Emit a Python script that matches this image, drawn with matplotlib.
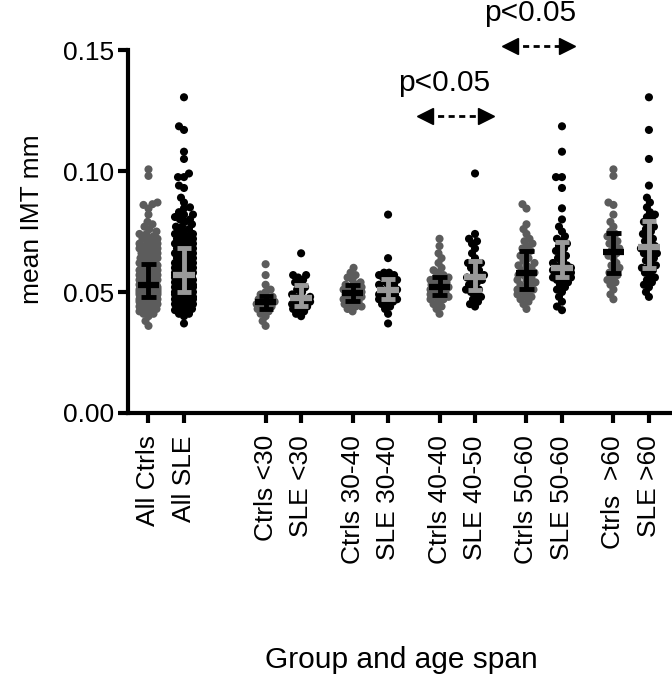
import numpy as np
import matplotlib.pyplot as plt

plt.rcParams['font.family'] = ['Liberation Sans', 'DejaVu Sans']

# group labels and x positions (pairs with gaps between age spans)
labels = ['All Ctrls', 'All SLE', 'Ctrls <30', 'SLE <30', 'Ctrls 30-40', 'SLE 30-40',
          'Ctrls 40-40', 'SLE 40-50', 'Ctrls 50-60', 'SLE 50-60', 'Ctrls  >60', 'SLE >60']
positions = [0, 1, 3.3, 4.3, 5.75, 6.75, 8.2, 9.2, 10.65, 11.65, 13.1, 14.1]

# mean IMT (mm)
ctrls_lt30 = [0.036, 0.038, 0.040, 0.041, 0.042, 0.043, 0.043, 0.044, 0.044, 0.045, 0.045, 0.046,
              0.046, 0.046, 0.047, 0.047, 0.048, 0.048, 0.049, 0.050, 0.051, 0.053, 0.057, 0.0615]
sle_lt30 = [0.040, 0.041, 0.042, 0.043, 0.043, 0.044, 0.044, 0.045, 0.045, 0.046, 0.046, 0.047,
            0.047, 0.048, 0.048, 0.049, 0.050, 0.051, 0.052, 0.053, 0.054, 0.055, 0.056, 0.057,
            0.057, 0.066]
ctrls_30_40 = [0.042, 0.043, 0.044, 0.044, 0.045, 0.045, 0.046, 0.046, 0.047, 0.047, 0.048, 0.048,
               0.049, 0.049, 0.049, 0.050, 0.050, 0.050, 0.051, 0.051, 0.052, 0.052, 0.053, 0.053,
               0.054, 0.055, 0.056, 0.057, 0.058, 0.060]
sle_30_40 = [0.037, 0.041, 0.043, 0.044, 0.045, 0.046, 0.046, 0.047, 0.047, 0.048, 0.048, 0.049,
             0.049, 0.050, 0.050, 0.051, 0.051, 0.052, 0.053, 0.053, 0.054, 0.055, 0.055, 0.056,
             0.056, 0.057, 0.057, 0.058, 0.058, 0.064, 0.082]
ctrls_40_50 = [0.041, 0.043, 0.044, 0.045, 0.046, 0.047, 0.047, 0.048, 0.048, 0.049, 0.049, 0.050,
               0.050, 0.050, 0.051, 0.051, 0.052, 0.052, 0.052, 0.053, 0.053, 0.054, 0.054, 0.055,
               0.055, 0.056, 0.056, 0.057, 0.058, 0.059, 0.060, 0.062, 0.064, 0.066, 0.069, 0.072]
sle_40_50 = [0.044, 0.045, 0.046, 0.047, 0.048, 0.049, 0.050, 0.051, 0.051, 0.052, 0.053, 0.054,
             0.055, 0.055, 0.056, 0.056, 0.057, 0.058, 0.059, 0.060, 0.061, 0.062, 0.062, 0.064,
             0.066, 0.068, 0.070, 0.071, 0.072, 0.074, 0.099]
ctrls_50_60 = [0.043, 0.045, 0.046, 0.047, 0.048, 0.048, 0.049, 0.050, 0.050, 0.051, 0.051, 0.052,
               0.053, 0.053, 0.054, 0.055, 0.055, 0.056, 0.057, 0.057, 0.058, 0.058, 0.059, 0.060,
               0.061, 0.061, 0.062, 0.063, 0.064, 0.065, 0.066, 0.067, 0.068, 0.069, 0.070, 0.071,
               0.072, 0.074, 0.076, 0.078, 0.0845, 0.0863]
sle_50_60 = [0.0425, 0.044, 0.046, 0.048, 0.050, 0.051, 0.052, 0.053, 0.054, 0.055, 0.055, 0.056,
             0.056, 0.057, 0.057, 0.058, 0.058, 0.058, 0.059, 0.059, 0.059, 0.060, 0.060, 0.060,
             0.061, 0.061, 0.062, 0.063, 0.064, 0.065, 0.066, 0.067, 0.068, 0.069, 0.070, 0.071,
             0.072, 0.073, 0.075, 0.077, 0.080, 0.0846, 0.093, 0.0975, 0.0975, 0.108, 0.1185]
ctrls_gt60 = [0.047, 0.049, 0.051, 0.053, 0.054, 0.055, 0.056, 0.057, 0.058, 0.059, 0.060, 0.061,
              0.062, 0.064, 0.065, 0.066, 0.067, 0.068, 0.069, 0.070, 0.071, 0.072, 0.073, 0.074,
              0.075, 0.077, 0.079, 0.082, 0.086, 0.087, 0.098, 0.1007]
sle_gt60 = [0.048, 0.050, 0.052, 0.053, 0.054, 0.055, 0.056, 0.057, 0.058, 0.059, 0.060, 0.060,
            0.061, 0.062, 0.063, 0.064, 0.065, 0.066, 0.066, 0.067, 0.068, 0.068, 0.069, 0.070,
            0.071, 0.072, 0.073, 0.074, 0.075, 0.076, 0.077, 0.078, 0.079, 0.080, 0.081, 0.082,
            0.083, 0.085, 0.087, 0.089, 0.094, 0.105, 0.117, 0.1305]

all_ctrls = ctrls_lt30 + ctrls_30_40 + ctrls_40_50 + ctrls_50_60 + ctrls_gt60
all_sle = sle_lt30 + sle_30_40 + sle_40_50 + sle_50_60 + sle_gt60

groups = [all_ctrls, all_sle, ctrls_lt30, sle_lt30, ctrls_30_40, sle_30_40,
          ctrls_40_50, sle_40_50, ctrls_50_60, sle_50_60, ctrls_gt60, sle_gt60]

# significance brackets: (x from, x to, arrow y, text x, text y)
sig = [(7.6, 9.68, 0.1227, 8.32, 0.1365), (10.0, 11.96, 0.1517, 10.75, 0.1655)]

PX_X = 35.5           # pixels per x unit
PX_Y = 363 / 0.15     # pixels per y unit


def swarm(vals, diam=5.5, half=9):
    # simple beeswarm: offsets in pixels, limited width
    order = np.argsort(vals)
    placed = []
    offs = np.zeros(len(vals))
    cands = sorted(range(-half, half + 1), key=lambda c: (abs(c), c))
    for i in order:
        y = vals[i] * PX_Y
        best, best_d = 0, -1
        for c in cands:
            if placed:
                d = min(np.hypot(c - px, y - py) for px, py in placed)
            else:
                d = np.inf
            if d >= diam:
                best = c
                break
            if d > best_d:
                best, best_d = c, d
        offs[i] = best
        placed.append((best, y))
    return offs / PX_X


fig = plt.figure(figsize=(6.72, 6.77), dpi=100)
ax = fig.add_axes([0.1905, 0.39, 0.8095, 0.536])

for k, (pos, vals) in enumerate(zip(positions, groups)):
    vals = np.array(vals)
    ctrl = k % 2 == 0
    pcol = '#5c5c5c' if ctrl else 'black'
    bcol = 'black' if ctrl else '#999999'
    xs = pos + swarm(vals)
    ax.scatter(xs, vals, s=34, color=pcol, edgecolors='none', zorder=2)
    med = np.median(vals)
    q1, q3 = np.percentile(vals, [25, 75])
    ax.hlines(med, pos - 0.3, pos + 0.3, color=bcol, lw=4.5, zorder=3)
    ax.vlines(pos, q1, q3, color=bcol, lw=3.5, zorder=3)
    ax.hlines([q1, q3], pos - 0.2, pos + 0.2, color=bcol, lw=3.5, zorder=3)

for x0, x1, ya, tx, ty in sig:
    ax.plot([x0 + 0.25, x1 - 0.25], [ya, ya], color='black', lw=2, ls=(0, (2.2, 1.6)),
            clip_on=False, zorder=4)
    ax.plot([x0 + 0.18], [ya], marker='<', ms=12, color='black', clip_on=False, zorder=4)
    ax.plot([x1 - 0.18], [ya], marker='>', ms=12, color='black', clip_on=False, zorder=4)
    ax.text(tx, ty, 'p<0.05', ha='center', va='center', fontsize=21.5, clip_on=False)

ax.set_xlim(-0.577, 14.75)
ax.set_ylim(0, 0.15)
ax.set_yticks([0, 0.05, 0.10, 0.15])
ax.set_yticklabels(['0.00', '0.05', '0.10', '0.15'])
ax.set_xticks(positions)
ax.set_xticklabels(labels, rotation=90)

for side in ['top', 'right']:
    ax.spines[side].set_visible(False)
for side in ['left', 'bottom']:
    ax.spines[side].set_linewidth(3)
ax.tick_params(axis='both', length=7, width=3, labelsize=19, pad=3)
ax.tick_params(axis='x', pad=9)

ax.set_ylabel('mean IMT mm', fontsize=19)
ax.yaxis.set_label_coords(-0.155, 0.535)
fig.text(0.597, 0.025, 'Group and age span', ha='center', va='center', fontsize=21.5)

fig.savefig('out.png', dpi=100)
